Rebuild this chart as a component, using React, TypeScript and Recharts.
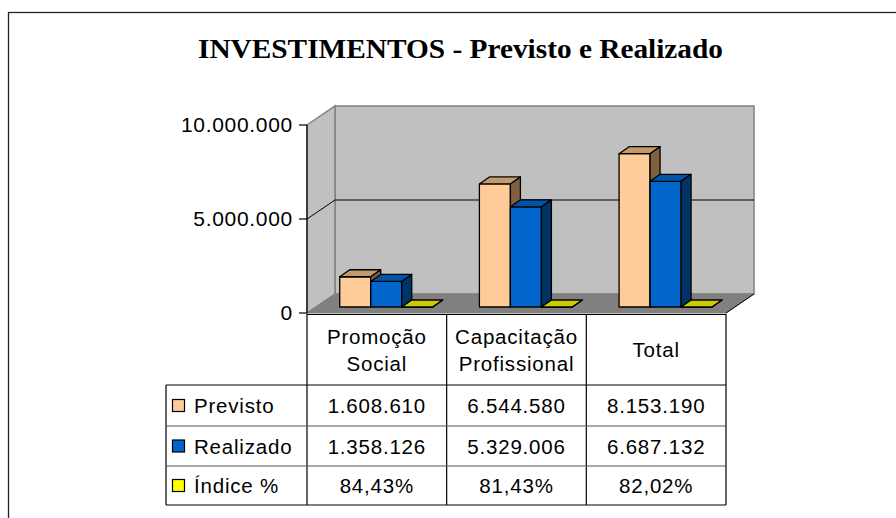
import { BarChart, Bar, XAxis, YAxis, ReferenceArea, ReferenceLine } from 'recharts'

const categories = ['Promoção Social', 'Capacitação Profissional', 'Total']
const categoryLines = [['Promoção', 'Social'], ['Capacitação', 'Profissional'], ['Total']]
const previsto = [1608610, 6544580, 8153190]
const realizado = [1358126, 5329006, 6687132]
const indice = [84.43, 81.43, 82.02]
const yTicks = [0, 5000000, 10000000]
const seriesNames = ['Previsto', 'Realizado', 'Índice %']

const data = categories.map((name, i) => ({
  name,
  Previsto: previsto[i],
  Realizado: realizado[i],
  'Índice %': indice[i],
}))

// chart geometry
const W = 896
const H = 518
const PLOT_LEFT = 307
const PLOT_RIGHT = 726
const PLOT_TOP = 125
const PLOT_BOTTOM = 313
const DX = 28 // wall depth
const DY = 19
const BX = 9 // bars sit a bit behind the front plane
const BY = 6
const BDX = 10 // bar depth
const BDY = 7

const COLORS = {
  Previsto: { front: '#FFCC99', top: '#C49A6C', side: '#806040' },
  Realizado: { front: '#0066CC', top: '#0055AA', side: '#003366' },
  'Índice %': { front: '#FFFF00', top: '#CCCC00', side: '#808000' },
}

const fmtNum = (n: number) => String(n).replace(/\B(?=(\d{3})+(?!\d))/g, '.')
const fmtPct = (n: number) => n.toFixed(2).replace('.', ',') + '%'
const FONT = '"Liberation Sans", Arial, sans-serif'

function bar3d(c: { front: string; top: string; side: string }) {
  return (props: any) => {
    const { x, y, width, height } = props
    const fx = x + BX
    const fy = y - BY
    const h = Math.max(0, height)
    return (
      <g stroke="#000" strokeWidth={1.3} strokeLinejoin="round">
        <rect x={fx} y={fy} width={width} height={h} fill={c.front} />
        <polygon
          points={`${fx},${fy} ${fx + BDX},${fy - BDY} ${fx + width + BDX},${fy - BDY} ${fx + width},${fy}`}
          fill={c.top}
        />
        <polygon
          points={`${fx + width},${fy} ${fx + width + BDX},${fy - BDY} ${fx + width + BDX},${fy + h - BDY} ${fx + width},${fy + h}`}
          fill={c.side}
        />
      </g>
    )
  }
}

function Walls(props: any) {
  const { x, y, width, height } = props
  const b = y + height
  return (
    <g>
      <rect x={x + DX} y={y - DY} width={width} height={height} fill="#C0C0C0" stroke="#808080" strokeWidth={1.5} />
      <polygon
        points={`${x},${y} ${x + DX},${y - DY} ${x + DX},${b - DY} ${x},${b}`}
        fill="#C0C0C0"
        stroke="#808080"
        strokeWidth={1.5}
      />
      <polygon
        points={`${x},${b} ${x + DX},${b - DY} ${x + width + DX},${b - DY} ${x + width},${b}`}
        fill="#808080"
        stroke="#808080"
        strokeWidth={1}
      />
      <line x1={x + width} y1={b} x2={x + width + DX} y2={b - DY} stroke="#000" strokeWidth={1} />
    </g>
  )
}

function GridLine3d(props: any) {
  const { x1, y1, x2 } = props
  return (
    <path
      d={`M${x1},${y1} L${x1 + DX},${y1 - DY} L${x2 + DX},${y1 - DY}`}
      fill="none"
      stroke="#000"
      strokeWidth={1}
    />
  )
}

function DataTable() {
  const bw = (PLOT_RIGHT - PLOT_LEFT) / categories.length
  const cols = categories.map((_, i) => PLOT_LEFT + i * bw)
  const legendLeft = 166
  const headTop = 314
  const rowTops = [385, 426, 466]
  const bottom = 505
  const rows = [previsto.map(fmtNum), realizado.map(fmtNum), indice.map(fmtPct)]
  const swatch = [COLORS.Previsto.front, COLORS.Realizado.front, COLORS['Índice %'].front]
  return (
    <g fontFamily={FONT} fontSize={20.5} fill="#000" style={{ letterSpacing: 0.8 }}>
      {categoryLines.map((lines, i) => {
        const cx = cols[i] + bw / 2
        const cy = (headTop + rowTops[0]) / 2
        const start = cy - ((lines.length - 1) * 27) / 2
        return lines.map((t, j) => (
          <text key={`${i}-${j}`} x={cx} y={start + j * 27} textAnchor="middle" dominantBaseline="central">
            {t}
          </text>
        ))
      })}
      {rows.map((vals, r) => {
        const top = rowTops[r]
        const next = r + 1 < rowTops.length ? rowTops[r + 1] : bottom
        const cy = (top + next) / 2
        return (
          <g key={r}>
            <rect x={172.5} y={cy - 6} width={12} height={12} fill={swatch[r]} stroke="#000" strokeWidth={1.2} />
            <text x={194} y={cy} dominantBaseline="central">
              {seriesNames[r]}
            </text>
            {vals.map((v, i) => (
              <text key={i} x={cols[i] + bw / 2} y={cy} textAnchor="middle" dominantBaseline="central">
                {v}
              </text>
            ))}
          </g>
        )
      })}
      <g stroke="#000" strokeWidth={1.2} fill="none">
        <line x1={PLOT_LEFT} y1={headTop + 0.5} x2={PLOT_RIGHT} y2={headTop + 0.5} />
        <line x1={legendLeft} y1={rowTops[0]} x2={PLOT_RIGHT} y2={rowTops[0]} />
        <line x1={legendLeft} y1={bottom} x2={PLOT_RIGHT} y2={bottom} />
        <line x1={legendLeft} y1={rowTops[0]} x2={legendLeft} y2={bottom} />
        {[...cols, PLOT_RIGHT].map((cx, i) => (
          <line key={i} x1={cx} y1={headTop} x2={cx} y2={bottom} />
        ))}
      </g>
      <g stroke="#555" strokeWidth={1.2}>
        <line x1={legendLeft} y1={rowTops[1]} x2={PLOT_RIGHT} y2={rowTops[1]} />
        <line x1={legendLeft} y1={rowTops[2]} x2={PLOT_RIGHT} y2={rowTops[2]} />
      </g>
    </g>
  )
}

export default function App() {
  return (
    <div style={{ position: 'absolute', left: 0, top: 0, width: W, height: H, background: '#fff', overflow: 'hidden' }}>
      <BarChart
        width={W}
        height={H}
        data={data}
        margin={{ top: PLOT_TOP, right: W - PLOT_RIGHT, bottom: H - PLOT_BOTTOM, left: PLOT_LEFT - 60 }}
        barCategoryGap="17%"
        barGap={0}
      >
        <XAxis dataKey="name" hide />
        <YAxis
          width={60}
          domain={[0, 10000000]}
          ticks={yTicks}
          tickFormatter={fmtNum}
          axisLine={{ stroke: '#000', strokeWidth: 1.2 }}
          tickLine={{ stroke: '#000', strokeWidth: 1.2 }}
          tickSize={8}
          tickMargin={6}
          tick={{ fontSize: 21, fill: '#000', fontFamily: FONT, letterSpacing: 0.7 }}
        />
        <ReferenceArea y1={0} y2={10000000} shape={Walls} zIndex={-60} />
        <ReferenceLine y={5000000} shape={GridLine3d} zIndex={-50} />
        {seriesNames.map((s) => (
          <Bar key={s} dataKey={s} isAnimationActive={false} shape={bar3d((COLORS as any)[s])} />
        ))}
      </BarChart>
      <svg width={W} height={H} style={{ position: 'absolute', left: 0, top: 0, pointerEvents: 'none' }}>
        <rect x={8.5} y={12.5} width={1000} height={1000} fill="none" stroke="#222" strokeWidth={1.3} />
        <text
          x={460.5}
          y={58}
          textAnchor="middle"
          fontFamily='"Liberation Serif", "Times New Roman", serif'
          fontWeight="bold"
          fontSize={28}
          textLength={525}
          lengthAdjust="spacingAndGlyphs"
        >
          INVESTIMENTOS - Previsto e Realizado
        </text>
        <DataTable />
      </svg>
    </div>
  )
}
